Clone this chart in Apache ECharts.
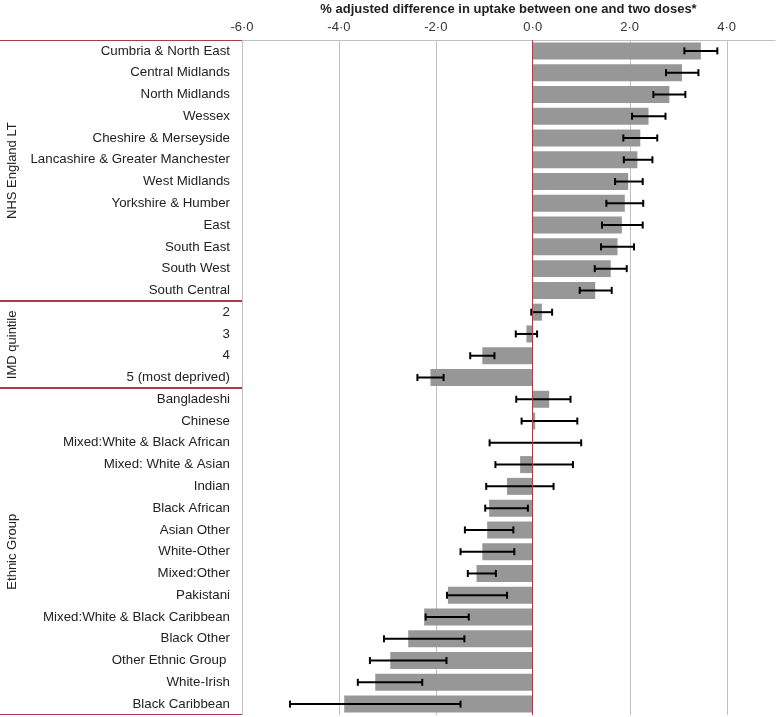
<!DOCTYPE html>
<html>
<head>
<meta charset="utf-8">
<script src="https://cdn.jsdelivr.net/npm/echarts@6/dist/echarts.min.js"></script>
<style>
html,body{margin:0;padding:0;background:#fff;}
#chart{width:777px;height:717px;}
</style>
</head>
<body>
<div id="chart"></div>
<script>
const categories = [
  'Cumbria & North East','Central Midlands','North Midlands','Wessex','Cheshire & Merseyside',
  'Lancashire & Greater Manchester','West Midlands','Yorkshire & Humber','East','South East',
  'South West','South Central',
  '2','3','4','5 (most deprived)',
  'Bangladeshi','Chinese','Mixed:White & Black African','Mixed: White & Asian','Indian',
  'Black African','Asian Other','White-Other','Mixed:Other','Pakistani',
  'Mixed:White & Black Caribbean','Black Other','Other Ethnic Group ','White-Irish','Black Caribbean'
];
const groupNames = ['NHS England LT', 'IMD quintile', 'Ethnic Group'];
const groupSizes = [12, 4, 15];
const values = [
  3.47, 3.08, 2.82, 2.39, 2.22, 2.16, 1.97, 1.90, 1.84, 1.75, 1.61, 1.29,
  0.19, -0.13, -1.04, -2.11,
  0.34, 0.05, 0.0, -0.26, -0.53, -0.90, -0.94, -1.04, -1.16, -1.75, -2.24, -2.57, -2.94, -3.25, -3.89
];
const lowerCI = [
  3.13, 2.75, 2.49, 2.05, 1.87, 1.88, 1.70, 1.52, 1.43, 1.41, 1.28, 0.97,
  -0.03, -0.35, -1.29, -2.38,
  -0.34, -0.23, -0.89, -0.77, -0.96, -0.98, -1.40, -1.49, -1.34, -1.77, -2.21, -3.07, -3.36, -3.61, -5.01
];
const upperCI = [
  3.81, 3.42, 3.15, 2.74, 2.57, 2.47, 2.27, 2.28, 2.27, 2.09, 1.94, 1.63,
  0.40, 0.09, -0.79, -1.84,
  0.78, 0.92, 1.00, 0.83, 0.43, -0.10, -0.40, -0.38, -0.76, -0.53, -1.32, -1.41, -1.78, -2.28, -1.49
];
const gridValues = [-6, -4, -2, 2, 4];
const axisTitle = '% adjusted difference in uptake between one and two doses*';

const FONT = '"Liberation Sans", Arial, sans-serif';
const MAROON = '#ad3b50';
const GRIDGRAY = '#c0c0c0';

const chart = echarts.init(document.getElementById('chart'), null, {renderer: 'canvas'});

const errData = values.map((v, i) => [i, lowerCI[i], upperCI[i]]);
let start = 0;
const groupData = groupSizes.map((n, g) => { const d = [start, n, g]; start += n; return d; });

const option = {
  animation: false,
  backgroundColor: '#fff',
  grid: {left: 242, right: 2, top: 40, bottom: 2, containLabel: false, outerBoundsMode: 'none'},
  xAxis: {
    type: 'value', position: 'top', min: -6, max: 5, interval: 2,
    name: axisTitle, nameLocation: 'middle', nameGap: 20,
    nameTextStyle: {fontFamily: FONT, fontSize: 13, fontWeight: 'bold', color: '#222'},
    axisLine: {show: true, lineStyle: {color: GRIDGRAY, width: 1}},
    axisTick: {show: false},
    splitLine: {show: false},
    axisLabel: {
      fontFamily: FONT, fontSize: 13, color: '#333', margin: 6,
      formatter: v => (v > 4.5 ? '' : v.toFixed(1).replace('.', '\u00B7'))
    }
  },
  yAxis: {
    type: 'category', data: categories, inverse: true,
    axisLine: {show: false}, axisTick: {show: false}, splitLine: {show: false},
    axisLabel: {fontFamily: FONT, fontSize: 13.3, color: '#222', margin: 12}
  },
  series: [
    {
      type: 'custom', z: 1, silent: true, clip: false,
      data: gridValues.map(v => [v]),
      encode: {x: 0},
      renderItem: function (params, api) {
        const cs = params.coordSys;
        const x = Math.round(api.coord([api.value(0), 0])[0]) + 0.5;
        return {type: 'line', shape: {x1: x, y1: cs.y, x2: x, y2: cs.y + cs.height},
          style: {stroke: GRIDGRAY, lineWidth: 1}};
      }
    },
    {
      type: 'bar', z: 2, data: values, barCategoryGap: '22%',
      itemStyle: {color: '#979797'},
      silent: true,
      markLine: {
        silent: true, symbol: 'none', label: {show: false},
        lineStyle: {color: MAROON, width: 1, type: 'solid'},
        data: [{xAxis: 0}]
      }
    },
    {
      type: 'custom', z: 4, silent: true, clip: false,
      data: errData, encode: {y: 0, x: [1, 2]},
      renderItem: function (params, api) {
        const idx = api.value(0);
        const p1 = api.coord([api.value(1), idx]);
        const p2 = api.coord([api.value(2), idx]);
        const y = p1[1];
        const h = 3.5;
        const st = {stroke: '#000', lineWidth: 2};
        return {type: 'group', children: [
          {type: 'line', shape: {x1: p1[0], y1: y, x2: p2[0], y2: y}, style: st},
          {type: 'line', shape: {x1: p1[0], y1: y - h, x2: p1[0], y2: y + h}, style: st},
          {type: 'line', shape: {x1: p2[0], y1: y - h, x2: p2[0], y2: y + h}, style: st}
        ]};
      }
    },
    {
      type: 'custom', z: 5, silent: true, clip: false,
      data: groupData, encode: {y: 0},
      renderItem: function (params, api) {
        const cs = params.coordSys;
        const s = api.value(0), n = api.value(1), g = api.value(2);
        const band = api.size([0, 1])[1];
        const yTop = api.coord([0, s])[1] - band / 2;
        const yBot = yTop + n * band;
        const st = {stroke: MAROON, lineWidth: 1};
        return {type: 'group', children: [
          {type: 'line', shape: {x1: 0, y1: Math.round(yTop) + 0.5, x2: cs.x, y2: Math.round(yTop) + 0.5}, style: st},
          {type: 'line', shape: {x1: 0, y1: Math.round(yBot) - 0.5, x2: cs.x, y2: Math.round(yBot) - 0.5}, style: st},
          {type: 'text', x: 12, y: (yTop + yBot) / 2, rotation: Math.PI / 2,
            style: {text: groupNames[g], fontFamily: FONT, fontSize: 13, fill: '#222',
              textAlign: 'center', textVerticalAlign: 'middle'}}
        ]};
      }
    }
  ]
};
chart.setOption(option);
</script>
</body>
</html>
